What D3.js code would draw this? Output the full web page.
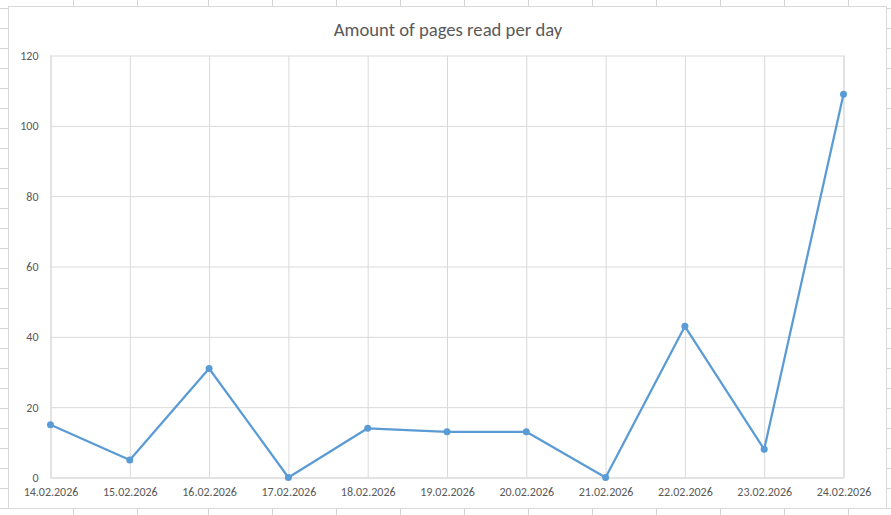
<!DOCTYPE html>
<html>
<head>
<meta charset="utf-8">
<script src="https://cdn.jsdelivr.net/npm/d3@7"></script>
<style>
  html, body { margin: 0; padding: 0; background: #ffffff; }
  svg { display: block; }
</style>
</head>
<body>
<svg id="chart" width="891" height="515"></svg>
<script>
// ---- data ----
const categories = ["14.02.2026","15.02.2026","16.02.2026","17.02.2026","18.02.2026","19.02.2026","20.02.2026","21.02.2026","22.02.2026","23.02.2026","24.02.2026"];
const pagesRead = [15, 5, 31, 0, 14, 13, 13, 0, 43, 8, 109];
const yTicks = [0, 20, 40, 60, 80, 100, 120];
const chartTitle = "Amount of pages read per day";

// ---- layout ----
const W = 891, H = 515;
const frame = { left: 8.5, top: 6.5, right: 886.5, bottom: 508.5 };
const plot = { left: 50.5, top: 55.5, right: 843.5, bottom: 477.5 };
const sheetCols = [73.5, 137.5, 208.5, 272.5, 336.5, 400.5, 464.5, 528.5, 592.5, 656.5, 720.5, 784.5, 848.5];
const rowStart = 8.5, rowStep = 20;
const gridColor = "#d9d9d9", sheetColor = "#d4d4d4", textColor = "#595959", lineColor = "#5b9bd5";
const font = "Calibri, Carlito, 'Liberation Sans', Arial, sans-serif";

const svg = d3.select("#chart");

// spreadsheet background grid outside the chart frame
const bg = svg.append("g").attr("stroke", sheetColor).attr("stroke-width", 1);
sheetCols.forEach(x => {
  bg.append("line").attr("x1", x).attr("x2", x).attr("y1", 0).attr("y2", frame.top);
  bg.append("line").attr("x1", x).attr("x2", x).attr("y1", frame.bottom).attr("y2", H);
});
for (let y = rowStart; y <= H; y += rowStep) {
  bg.append("line").attr("x1", 0).attr("x2", frame.left).attr("y1", y).attr("y2", y);
  bg.append("line").attr("x1", frame.right).attr("x2", W).attr("y1", y).attr("y2", y);
}

// chart frame
svg.append("rect")
  .attr("x", frame.left).attr("y", frame.top)
  .attr("width", frame.right - frame.left).attr("height", frame.bottom - frame.top)
  .attr("fill", "#ffffff").attr("stroke", gridColor).attr("stroke-width", 1);

// scales
const x = d3.scalePoint().domain(categories).range([plot.left, plot.right]).padding(0);
const y = d3.scaleLinear().domain([0, 120]).range([plot.bottom, plot.top]);

// horizontal gridlines + y labels
const yAxis = d3.axisLeft(y).tickValues(yTicks).tickSize(-(plot.right - plot.left)).tickPadding(12).tickFormat(d3.format("d"));
const gy = svg.append("g").attr("transform", `translate(${plot.left},0)`).call(yAxis);
gy.select(".domain").remove();
gy.selectAll(".tick line").attr("stroke", gridColor);
gy.selectAll(".tick text").attr("fill", textColor).style("font-family", font).style("font-size", "12px");

// vertical gridlines + x labels
const xAxis = d3.axisBottom(x).tickSize(-(plot.bottom - plot.top)).tickPadding(10);
const gx = svg.append("g").attr("transform", `translate(0,${plot.bottom})`).call(xAxis);
gx.select(".domain").attr("stroke", gridColor);
gx.selectAll(".tick line").attr("stroke", gridColor);
gx.selectAll(".tick text").attr("fill", textColor).style("font-family", font).style("font-size", "12px");

// line
const line = d3.line().x((d, i) => x(categories[i])).y(d => y(d));
svg.append("path").datum(pagesRead)
  .attr("d", line).attr("fill", "none")
  .attr("stroke", lineColor).attr("stroke-width", 2.25).attr("stroke-linejoin", "round");

svg.append("g").selectAll("circle").data(pagesRead).join("circle")
  .attr("cx", (d, i) => x(categories[i])).attr("cy", d => y(d))
  .attr("r", 3.5).attr("fill", lineColor);

// title
svg.append("text")
  .attr("x", (frame.left + frame.right) / 2 + 0.5).attr("y", 36)
  .attr("text-anchor", "middle")
  .attr("fill", textColor)
  .style("font-family", font).style("font-size", "18.67px")
  .text(chartTitle);
</script>
</body>
</html>
